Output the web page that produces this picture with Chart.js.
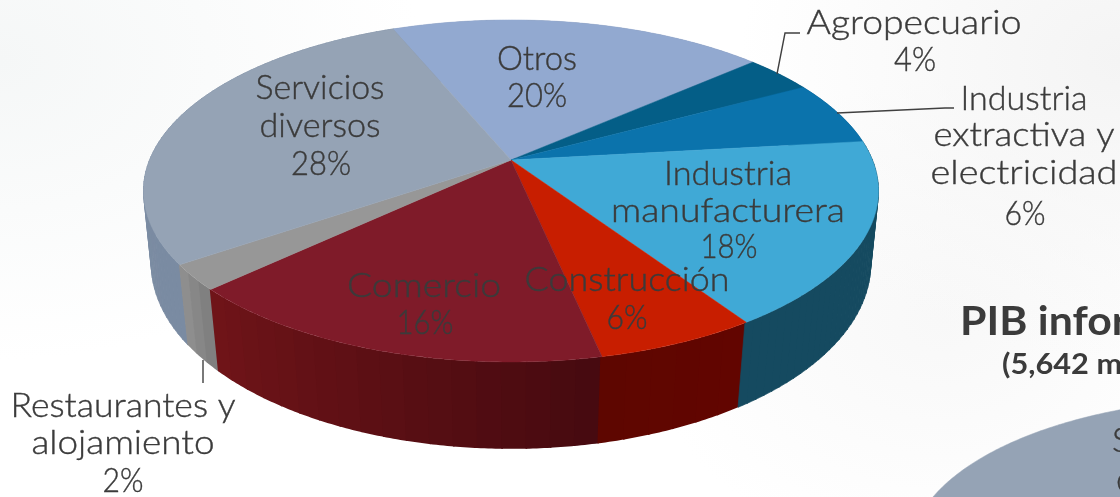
<!DOCTYPE html>
<html><head><meta charset="utf-8">
<style>
html,body{margin:0;padding:0;width:1120px;height:497px;overflow:hidden;
background:
 radial-gradient(ellipse 420px 300px at 0px 60px,#f5f7f7 0%,rgba(245,247,247,0) 100%),
 radial-gradient(ellipse 380px 300px at 1120px 60px,#f4f4f4 0%,rgba(244,244,244,0) 100%),
 radial-gradient(ellipse 300px 240px at 940px 320px,#f8f8f8 0%,rgba(248,248,248,0) 100%),
 #ffffff;}
canvas{display:block}
</style>
<script src="https://cdn.jsdelivr.net/npm/chart.js@4/dist/chart.umd.min.js"></script>
</head><body>
<canvas id="c" width="1120" height="497"></canvas>
<script>
const categories=["Otros","Agropecuario","Industria extractiva y electricidad","Industria manufacturera","Construcción","Comercio","Restaurantes y alojamiento","Servicios diversos"];
const shares=[19.7,3.6,6.1,17.5,6.0,16.3,2.4,28.4];
const percentLabels=["20%","4%","6%","18%","6%","16%","2%","28%"];
const secondPieCategories=["Servicios diversos"];
const secondPieShares=[100];

const topColors=["#92a9d0","#045e87","#0b73ac","#40a9d6","#c81e00","#7f1b29","#979797","#95a3b5"];
const sideStart=["#7b8ba0","#03405c","#084f76","#154a60","#620500","#470a10","#808080","#7a8ba2"];
const sideEnd  =["#7b8ba0","#03405c","#084f76","#154a60","#5e0600","#6f1418","#8e8e8e","#7f8fa5"];
const sideBands=[4,4,4,40,6,18,3,60];

const topDisc={cx:511,cy:160,A:361.4,B:165.4,k:0.181};
const lowDisc={cx:511,cy:232,A:354.5,B:180,k:0.17};
const otherDisc={cx:1250,cy:553,A:340,B:155,k:0};
const FONT='Lato';
const SIZE=33;
const TEXT='#3b3b3b';

const labelLayout=[
 {l:["Otros","20%"],x:[537,537],y:[58,95],w:[80,60]},
 {l:["Agropecuario","4%"],x:[914,915],y:[22,59],w:[215,42]},
 {l:["Industria","extractiva y","electricidad","6%"],x:[1024,1024,1024,1025],y:[98,134,172,213],w:[127,181,187,41]},
 {l:["Industria","manufacturera","18%"],x:[728,728,729],y:[173,210,246],w:[128,234,57]},
 {l:["Construcción","6%"],x:[627,627],y:[279,317],w:[205,41]},
 {l:["Comercio","16%"],x:[424,425],y:[285,322],w:[154,57]},
 {l:["Restaurantes y","alojamiento","2%"],x:[123,123,123],y:[405,442,480],w:[225,183,41]},
 {l:["Servicios","diversos","28%"],x:[320,320,321],y:[87,125,163],w:[129,121,60]}
];
const leaders=[
 [[777,74],[785,33],[800,33]],
 [[837,113],[945,108],[954,108]],
 [[203,360],[203,383]]
];

function proj(d,a){
  const u=Math.cos(a),v=Math.sin(a),w=1/(1-d.k*v);
  return [d.cx+d.A*u*w,d.cy+d.B*v*w];
}
function hex(c){return [1,3,5].map(i=>parseInt(c.substr(i,2),16));}
function mix(a,b,t){const x=hex(a),y=hex(b);return 'rgb('+x.map((v,i)=>Math.round(v+(y[i]-v)*t)).join(',')+')';}

function drawTop(ctx,d,arc,color){
  const a0=arc.startAngle,a1=arc.endAngle,n=Math.max(4,Math.ceil((a1-a0)/0.01));
  ctx.beginPath();
  if(a1-a0<6.28){ctx.moveTo(d.cx,d.cy);}
  for(let i=0;i<=n;i++){const p=proj(d,a0+(a1-a0)*i/n);ctx.lineTo(p[0],p[1]);}
  ctx.closePath();
  ctx.fillStyle=color;ctx.strokeStyle=color;ctx.lineWidth=0.5;ctx.lineJoin='round';
  ctx.fill();ctx.stroke();
}
function drawSides(ctx,arcs){
  const strips=[];
  arcs.forEach((arc,i)=>{
    const b=sideBands[i],a0=arc.startAngle,a1=arc.endAngle;
    for(let j=0;j<b;j++){
      const s=a0+(a1-a0)*j/b,e=a0+(a1-a0)*(j+1)/b+0.004;
      strips.push({o:i*100+j,s,e,fine:b>=40,c:mix(sideStart[i],sideEnd[i],b>1?j/(b-1):0)});
    }
  });
  strips.sort((p,q)=>q.o-p.o);
  strips.forEach(st=>{
    const n=Math.max(2,Math.ceil((st.e-st.s)/0.01));
    ctx.beginPath();
    for(let i=0;i<=n;i++){const p=proj(topDisc,st.s+(st.e-st.s)*i/n);i?ctx.lineTo(p[0],p[1]):ctx.moveTo(p[0],p[1]);}
    for(let i=n;i>=0;i--){const p=proj(lowDisc,st.s+(st.e-st.s)*i/n);ctx.lineTo(p[0],p[1]);}
    ctx.closePath();
    ctx.fillStyle=st.c;
    ctx.fill();
    if(st.fine){ctx.strokeStyle=st.c;ctx.lineWidth=0.7;ctx.lineJoin='round';ctx.stroke();}
  });
}
function fitted(ctx,s,x,y,font,w){
  ctx.save();
  ctx.font=font;ctx.fillStyle=TEXT;ctx.strokeStyle=TEXT;ctx.lineWidth=0.4;ctx.textAlign='center';ctx.textBaseline='middle';
  ctx.translate(x,y);ctx.scale(w/ctx.measureText(s).width,1);
  ctx.fillText(s,0,0);ctx.strokeText(s,0,0);
  ctx.restore();
}
function leftText(ctx,s,x,y,font,sx,thick){
  ctx.save();
  ctx.font=font;ctx.fillStyle=TEXT;ctx.strokeStyle=TEXT;ctx.lineWidth=0.4;ctx.textAlign='left';ctx.textBaseline='middle';
  ctx.translate(x,y);ctx.scale(sx,1);
  ctx.fillText(s,0,0);if(thick)ctx.strokeText(s,0,0);
  ctx.restore();
}

const pie3d={
  id:'pie3d',
  beforeDatasetDraw(chart,args){
    const ctx=chart.ctx,arcs=args.meta.data;
    ctx.save();
    if(args.index===0){
      drawSides(ctx,arcs);
      arcs.forEach(arc=>drawTop(ctx,topDisc,arc,arc.options.backgroundColor));
    }else{
      arcs.forEach(arc=>drawTop(ctx,otherDisc,arc,arc.options.backgroundColor));
    }
    ctx.restore();
    return false;
  },
  afterDraw(chart){
    const ctx=chart.ctx;
    ctx.save();
    ctx.strokeStyle='#404040';ctx.lineWidth=1.4;
    leaders.forEach(l=>{ctx.beginPath();l.forEach((p,i)=>i?ctx.lineTo(p[0],p[1]):ctx.moveTo(p[0],p[1]));ctx.stroke();});
    const f='300 '+SIZE+'px '+FONT;
    labelLayout.forEach(o=>o.l.forEach((s,i)=>fitted(ctx,s,o.x[i],o.y[i]+1,f,o.w[i])));
    leftText(ctx,"PIB informal",960,322,'700 40px '+FONT,1.07,false);
    leftText(ctx,"(5,642 millones de pesos)",1002,365,'700 29px '+FONT,1.06,false);
    leftText(ctx,"Servicios",1112,441,f,1.05,true);
    leftText(ctx,"diversos",1116,480,f,1.05,true);
    ctx.restore();
  }
};

new Chart(document.getElementById('c'),{
  type:'pie',
  data:{labels:categories,datasets:[
    {data:shares,backgroundColor:topColors,borderWidth:0},
    {data:secondPieShares,backgroundColor:["#95a3b5"],borderWidth:0,label:secondPieCategories[0]}
  ]},
  options:{responsive:false,animation:false,rotation:337.6,
    plugins:{legend:{display:false},tooltip:{enabled:false},title:{display:false}}},
  plugins:[pie3d]
});
</script>
</body></html>
